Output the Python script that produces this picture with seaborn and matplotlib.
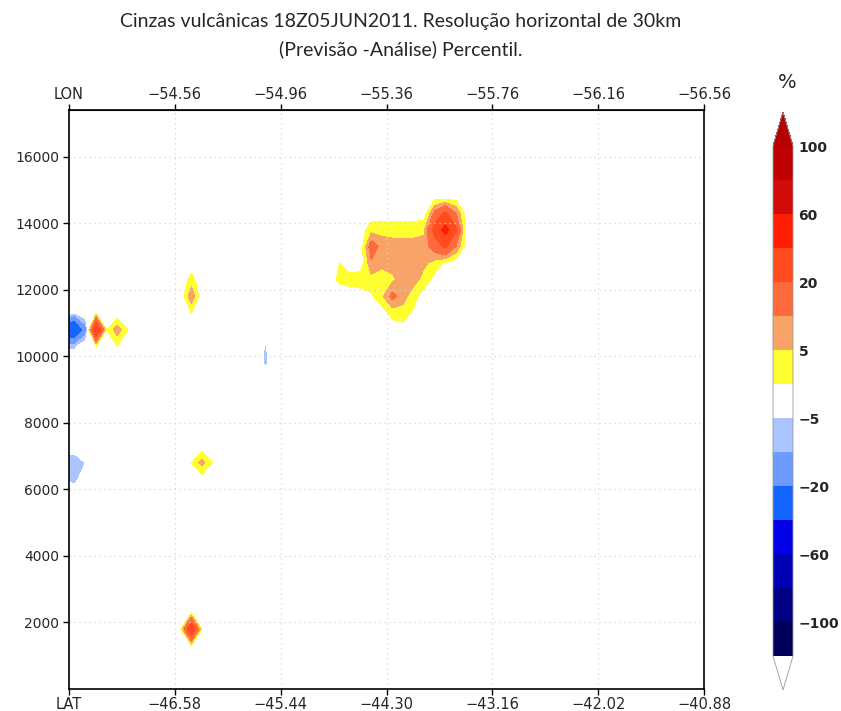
import numpy as np
import matplotlib
matplotlib.use("Agg")
import matplotlib.pyplot as plt
from matplotlib.colors import ListedColormap, BoundaryNorm
import seaborn as sns

# Nos da secção vertical: latitudes ao longo do corte e alturas (m)
lat_nodes = np.round(-47.77 + 0.114 * np.arange(61), 3)
height_nodes = np.arange(300, 17301, 500)

# Nucleo principal da pluma (Previsão - Análise, %)
blob_lats = [-44.920, -44.806, -44.692, -44.578, -44.464, -44.350, -44.236,
             -44.122, -44.008, -43.894, -43.780, -43.666, -43.552, -43.438]
blob_heights = [14800, 14300, 13800, 13300, 12800, 12300, 11800, 11300, 10800]
blob_vals = [
    [0, 0, 0, 0, 0, 0, 0, 0, 0, 0, -3, -4, -3, 0],
    [0, 0, 0, -3, -3, -3, -3, -3, -3, -3, 12, 22, 10, -3],
    [0, 0, 0, -3, 3, 3, 3, 3, 3, 4, 25, 48, 22, -4],
    [0, 0, 0, -3, 14, 8, 7, 7, 7, 7, 14, 22, 10, -3],
    [0, 0, -3, -3, 9, 6, 7, 7, 7, 6, 3, -1, -3, 0],
    [-2, 1, 2, 3, 3, 3, 4, 7, 7, 3, -2, -3, 0, 0],
    [0, -3, -3, -3, -1, 4, 12, 7, 2, -3, 0, 0, 0, 0],
    [0, 0, 0, 0, -3, -3, 2, 3, -1, 0, 0, 0, 0, 0],
    [0, 0, 0, 0, 0, 0, -3, -3, 0, 0, 0, 0, 0, 0],
]

# Celulas isoladas
spot_lat = [-46.402, -46.288, -46.288, -46.288,
            -46.402, -46.402, -46.402, -46.516, -46.288, -46.516, -46.288,
            -47.428, -47.200, -47.200,
            -47.770, -47.656, -47.770, -47.656, -47.656, -47.542,
            -47.770, -47.656, -47.770, -47.656, -47.770, -47.656, -47.542,
            -45.604, -45.604]
spot_height = [1800, 6800, 6300, 7300,
               11800, 12300, 12800, 11800, 11800, 12300, 12300,
               10800, 10800, 11300,
               10800, 10800, 10300, 10300, 11300, 10800,
               6800, 6800, 6300, 6300, 7300, 7300, 6800,
               9800, 10300]
spot_val = [33, 7, -3, -3,
            9, 2, -3, -4, -4, -4, -4,
            35, 8, -4,
            -38, -38, -6, -6, -4.5, -15,
            -9, -9, -5.5, -7, -1, -1, -4.9,
            -6.5, -5.6]

# Escala de cores
levels = [-120, -100, -80, -60, -40, -20, -10, -5, 0, 5, 10, 20, 40, 60, 80, 100]
colors = ['#00005a', '#000082', '#0000b4', '#0000e6', '#1464ff', '#6e9bff',
          '#aac4ff', '#ffffff', '#ffff32', '#f8a468', '#ff6a3c', '#ff4b1e',
          '#ff1e00', '#d20a0a', '#be0000']
cbar_ticks = [-100, -60, -20, -5, 5, 20, 60, 100]

lat_ticks = [-47.72, -46.58, -45.44, -44.30, -43.16, -42.02, -40.88]
lat_labels = ['LAT', '−46.58', '−45.44', '−44.30', '−43.16', '−42.02', '−40.88']
lon_labels = ['LON', '−54.56', '−54.96', '−55.36', '−55.76', '−56.16', '−56.56']
height_ticks = [2000, 4000, 6000, 8000, 10000, 12000, 14000, 16000]

# Montar a grelha
Z = np.zeros((len(height_nodes), len(lat_nodes)))

def near(arr, v):
    return int(np.argmin(np.abs(arr - v)))

for i, h in enumerate(blob_heights):
    for j, la in enumerate(blob_lats):
        Z[near(height_nodes, h), near(lat_nodes, la)] = blob_vals[i][j]
for la, h, v in zip(spot_lat, spot_height, spot_val):
    Z[near(height_nodes, h), near(lat_nodes, la)] = v

sns.set_style("white")
plt.rcParams['font.family'] = ['DejaVu Sans']

fig = plt.figure(figsize=(8.41, 7.11), dpi=100)
ax = fig.add_axes([69 / 841, 1 - 689 / 711, 635 / 841, 579 / 711])

cmap = ListedColormap(colors)
cmap.set_over('#b40000')
cmap.set_under('#ffffff')
norm = BoundaryNorm(levels, cmap.N)
cs = ax.contourf(lat_nodes, height_nodes, Z, levels=levels, cmap=cmap,
                 norm=norm, extend='both')

ax.set_xlim(-47.72, -40.88)
ax.set_ylim(0, 17400)
ax.set_axisbelow(False)
ax.grid(True, color='#d4d4d4', linestyle=(0, (1, 3)), linewidth=0.9)
ax.set_xticks(lat_ticks, labels=lat_labels)
ax.set_yticks(height_ticks)
for s in ax.spines.values():
    s.set_color('black')
    s.set_linewidth(1.2)
    s.set_zorder(5)
ax.tick_params(axis='both', direction='out', length=4, width=1, color='black',
               bottom=True, left=True)
ax.tick_params(axis='y', labelsize=10, pad=3)
ax.tick_params(axis='x', labelsize=10.5, pad=2)
for t in ax.get_xticklabels():
    t.set_family(['Liberation Sans Narrow', 'DejaVu Sans'])

top = ax.secondary_xaxis('top')
top.set_xticks(lat_ticks, labels=lon_labels)
top.tick_params(direction='out', length=4, width=1, color='black', labelsize=10.5, pad=2)
for t in top.get_xticklabels():
    t.set_family(['Liberation Sans Narrow', 'DejaVu Sans'])

# Barra de cores
cax = fig.add_axes([773 / 841, 1 - 690 / 711, 20 / 841, 578 / 711])
cb = fig.colorbar(cs, cax=cax, ticks=cbar_ticks, extendfrac=1 / 15)
cb.ax.minorticks_off()
cb.ax.tick_params(which='both', length=0, labelsize=10, pad=4)
for t in cb.ax.get_yticklabels():
    t.set_fontweight('bold')
cb.outline.set_edgecolor('#999999')
cb.outline.set_linewidth(0.6)
fig.text(787 / 841, 1 - 82 / 711, '%', ha='center', va='center', fontsize=14)

fig.text(401 / 841, 1 - 22 / 711,
         'Cinzas vulcânicas 18Z05JUN2011. Resolução horizontal de 30km',
         ha='center', va='center', fontsize=14, family=['Lato', 'DejaVu Sans'])
fig.text(401 / 841, 1 - 49 / 711, '(Previsão -Análise) Percentil.',
         ha='center', va='center', fontsize=14, family=['Lato', 'DejaVu Sans'])

fig.savefig('out.png', dpi=100)
